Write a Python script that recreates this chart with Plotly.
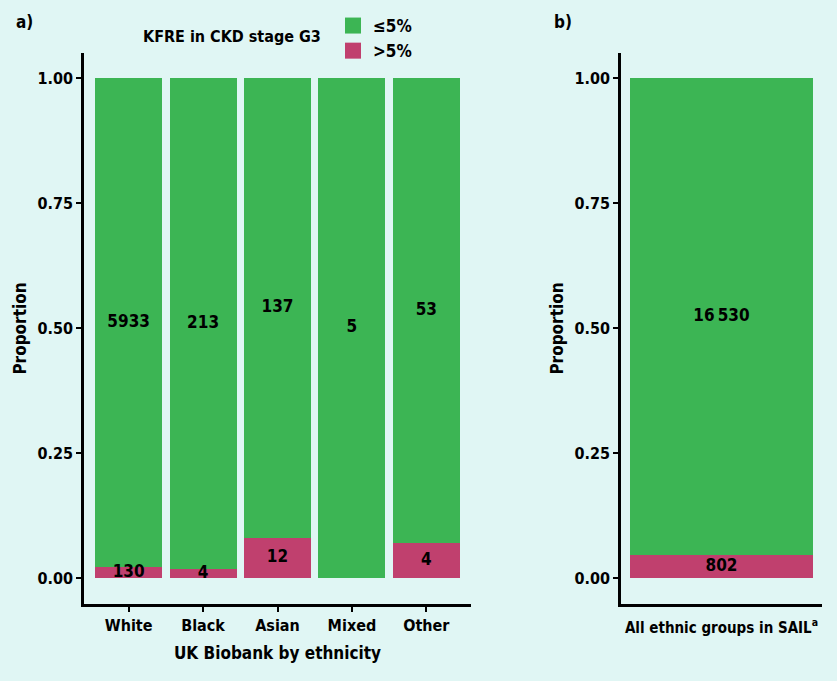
import plotly.graph_objects as go

# ---- data ----
groups_a = ["White", "Black", "Asian", "Mixed", "Other"]
low_counts_a = [5933, 213, 137, 5, 53]     # KFRE <=5%
high_counts_a = [130, 4, 12, 0, 4]         # KFRE >5%
low_labels_a = ["5933", "213", "137", "5", "53"]
high_labels_a = ["130", "4", "12", "", "4"]

groups_b = ["SAIL"]
low_counts_b = [16530]
high_counts_b = [802]
low_labels_b = ["16\u2009530"]
high_labels_b = ["802"]

tick_vals = [0, 0.25, 0.5, 0.75, 1.0]
tick_text = ["0.00", "0.25", "0.50", "0.75", "1.00"]

GREEN = "#3cb554"
PINK = "#c0406e"
BG = "#e0f6f4"
FONT = "DejaVu Sans Condensed"

def props(low, high):
    tot = [l + h for l, h in zip(low, high)]
    return [l / t for l, t in zip(low, tot)], [h / t for h, t in zip(high, tot)]

low_p_a, high_p_a = props(low_counts_a, high_counts_a)
low_p_b, high_p_b = props(low_counts_b, high_counts_b)

fig = go.Figure()

def add_panel(groups, low_p, high_p, low_lab, high_lab, xa, ya, width):
    fig.add_trace(go.Bar(x=groups, y=high_p, marker_color=PINK, width=width,
                         marker_line_width=0, showlegend=False,
                         xaxis=xa, yaxis=ya))
    fig.add_trace(go.Bar(x=groups, y=low_p, marker_color=GREEN, width=width,
                         marker_line_width=0, showlegend=False,
                         xaxis=xa, yaxis=ya))
    fig.add_trace(go.Scatter(x=groups, y=[h / 2 for h in high_p], mode="text",
                             text=high_lab, textfont=dict(size=17, color="black", family=FONT, weight="bold"),
                             showlegend=False, hoverinfo="skip", xaxis=xa, yaxis=ya))
    fig.add_trace(go.Scatter(x=groups, y=[h + l / 2 for h, l in zip(high_p, low_p)], mode="text",
                             text=low_lab, textfont=dict(size=17, color="black", family=FONT, weight="bold"),
                             showlegend=False, hoverinfo="skip", xaxis=xa, yaxis=ya))

add_panel(groups_a, low_p_a, high_p_a, low_labels_a, high_labels_a, "x", "y", 0.9)
add_panel(groups_b, low_p_b, high_p_b, low_labels_b, high_labels_b, "x2", "y2", 1.0)

# legend entries
fig.add_trace(go.Scatter(x=[None], y=[None], mode="markers", name="\u22645%",
                         marker=dict(symbol="square", size=20, color=GREEN)))
fig.add_trace(go.Scatter(x=[None], y=[None], mode="markers", name=">5%",
                         marker=dict(symbol="square", size=20, color=PINK)))

ydom = [77 / 681, 628 / 681]
yaxis_common = dict(range=[-0.052, 1.05], tickvals=tick_vals, ticktext=tick_text,
                    showgrid=False, zeroline=False, showline=True, linecolor="black",
                    linewidth=2.5, ticks="outside", ticklen=5, tickwidth=2, tickcolor="black",
                    tickfont=dict(size=16, color="black", family=FONT, weight="bold"),
                    title=dict(text="Proportion", font=dict(size=17, color="black", family=FONT, weight="bold"),
                               standoff=7),
                    domain=ydom)
xaxis_common = dict(showgrid=False, zeroline=False, showline=True, linecolor="black",
                    linewidth=2.5, tickwidth=2, tickcolor="black",
                    tickfont=dict(size=16, color="black", family=FONT, weight="bold"))

fig.update_layout(
    width=837, height=681,
    paper_bgcolor=BG, plot_bgcolor=BG,
    margin=dict(l=0, r=0, t=0, b=0),
    barmode="stack",
    font=dict(family=FONT, color="black"),
    xaxis=dict(**xaxis_common, domain=[84 / 837, 471 / 837], range=[-0.6, 4.6],
               ticks="outside", ticklen=5,
               title=dict(text="UK Biobank by ethnicity",
                          font=dict(size=17, color="black", family=FONT, weight="bold"), standoff=14)),
    xaxis2=dict(**xaxis_common, domain=[621 / 837, 822 / 837], range=[-0.55, 0.55],
                anchor="y2", showticklabels=False, ticks="",
                title=dict(text="All ethnic groups in SAIL<sup>a</sup>",
                           font=dict(size=15, color="black", family=FONT, weight="bold"), standoff=17)),
    yaxis=dict(**yaxis_common, anchor="x"),
    yaxis2=dict(**yaxis_common, anchor="x2"),
    legend=dict(x=333 / 837, y=1 - 8 / 681, xanchor="left", yanchor="top",
                bgcolor="rgba(0,0,0,0)", font=dict(size=17, family=FONT, weight="bold"),
                itemsizing="trace", traceorder="normal", tracegroupgap=0, itemwidth=30),
    annotations=[
        dict(text="a)", x=14 / 837, y=1 - 22 / 681, xref="paper", yref="paper",
             xanchor="left", yanchor="middle", showarrow=False,
             font=dict(size=17, family=FONT, weight="bold", color="black")),
        dict(text="b)", x=552 / 837, y=1 - 22 / 681, xref="paper", yref="paper",
             xanchor="left", yanchor="middle", showarrow=False,
             font=dict(size=17, family=FONT, weight="bold", color="black")),
        dict(text="KFRE in CKD stage G3", x=323 / 837, y=1 - 37 / 681, xref="paper", yref="paper",
             xanchor="right", yanchor="middle", showarrow=False,
             font=dict(size=16, family=FONT, weight="bold", color="black")),
    ],
)

fig.write_html("out.html", config={"displayModeBar": False},
               post_script="document.body.style.margin='0';")
